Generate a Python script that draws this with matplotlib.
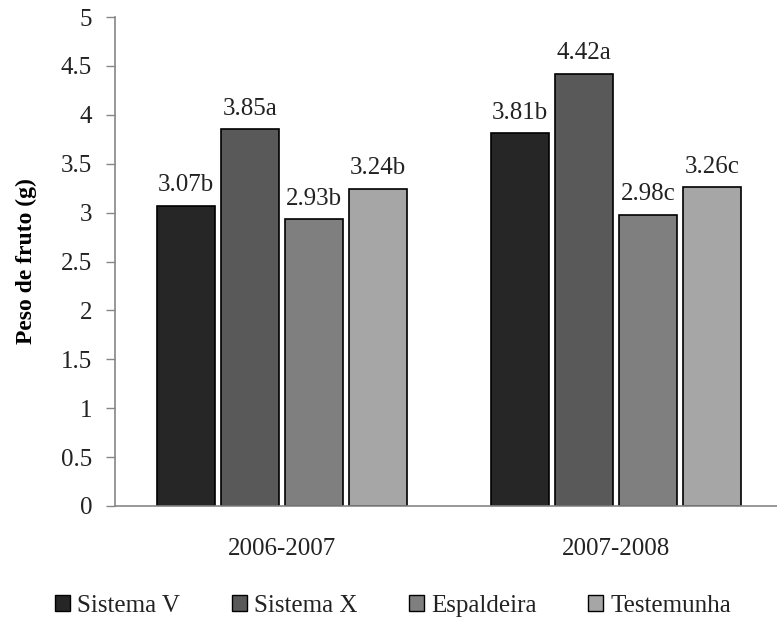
import numpy as np
import matplotlib.pyplot as plt
from matplotlib.patches import Patch

plt.rcParams['font.family'] = ['Liberation Serif', 'DejaVu Serif']

seasons = ['2006-2007', '2007-2008']
systems = ['Sistema V', 'Sistema X', 'Espaldeira', 'Testemunha']
values = [
    [3.07, 3.81],
    [3.85, 4.42],
    [2.93, 2.98],
    [3.24, 3.26],
]
letters = [
    ['b', 'b'],
    ['a', 'a'],
    ['b', 'c'],
    ['b', 'c'],
]
colors = ['#262626', '#595959', '#7f7f7f', '#a6a6a6']
txt = '#222222'

fig = plt.figure(figsize=(7.77, 6.28), dpi=100)
# plot area runs a little past the right border of the figure
ax = fig.add_axes([115 / 777, 1 - 506 / 628, 668 / 777, 489 / 628])

x = np.arange(len(seasons))
pitch = 0.1916
width = 0.1737
for i, (name, vals) in enumerate(zip(systems, values)):
    pos = x + (i - 1.5) * pitch
    ax.bar(pos, vals, width, color=colors[i], edgecolor='black', linewidth=1.2, label=name)
    for px, v, let in zip(pos, vals, letters[i]):
        ax.text(px, v + 0.15, f'{v:.2f}{let}', ha='center', va='baseline', fontsize=18, color=txt)

ax.set_xlim(-0.5, 1.5)
ax.set_ylim(0, 5)
ax.set_yticks(np.arange(0, 5.01, 0.5))
ax.set_yticklabels(['0', '0.5', '1', '1.5', '2', '2.5', '3', '3.5', '4', '4.5', '5'])
ax.set_xticks(x)
ax.set_xticklabels(seasons)
ax.tick_params(axis='y', length=6.5, width=1, color='#868686', labelsize=18, labelcolor=txt, pad=10)
ax.tick_params(axis='x', length=0, labelsize=18, labelcolor=txt, pad=23)
for side in ['top', 'right']:
    ax.spines[side].set_visible(False)
for side in ['left', 'bottom']:
    ax.spines[side].set_color('#868686')
    ax.spines[side].set_linewidth(1.2)

ax.set_ylabel('Peso de fruto (g)', fontsize=17, fontweight='bold', labelpad=17)

handles = [Patch(facecolor=c, edgecolor='black', linewidth=1) for c in colors]
fig.legend(handles, systems, loc='center', bbox_to_anchor=(393 / 777, 1 - 606 / 628),
           ncol=4, frameon=False, fontsize=18, handlelength=0.6, handleheight=0.6,
           handletextpad=0.3, columnspacing=2.05, labelcolor=txt)

fig.savefig('out.png', dpi=100)
